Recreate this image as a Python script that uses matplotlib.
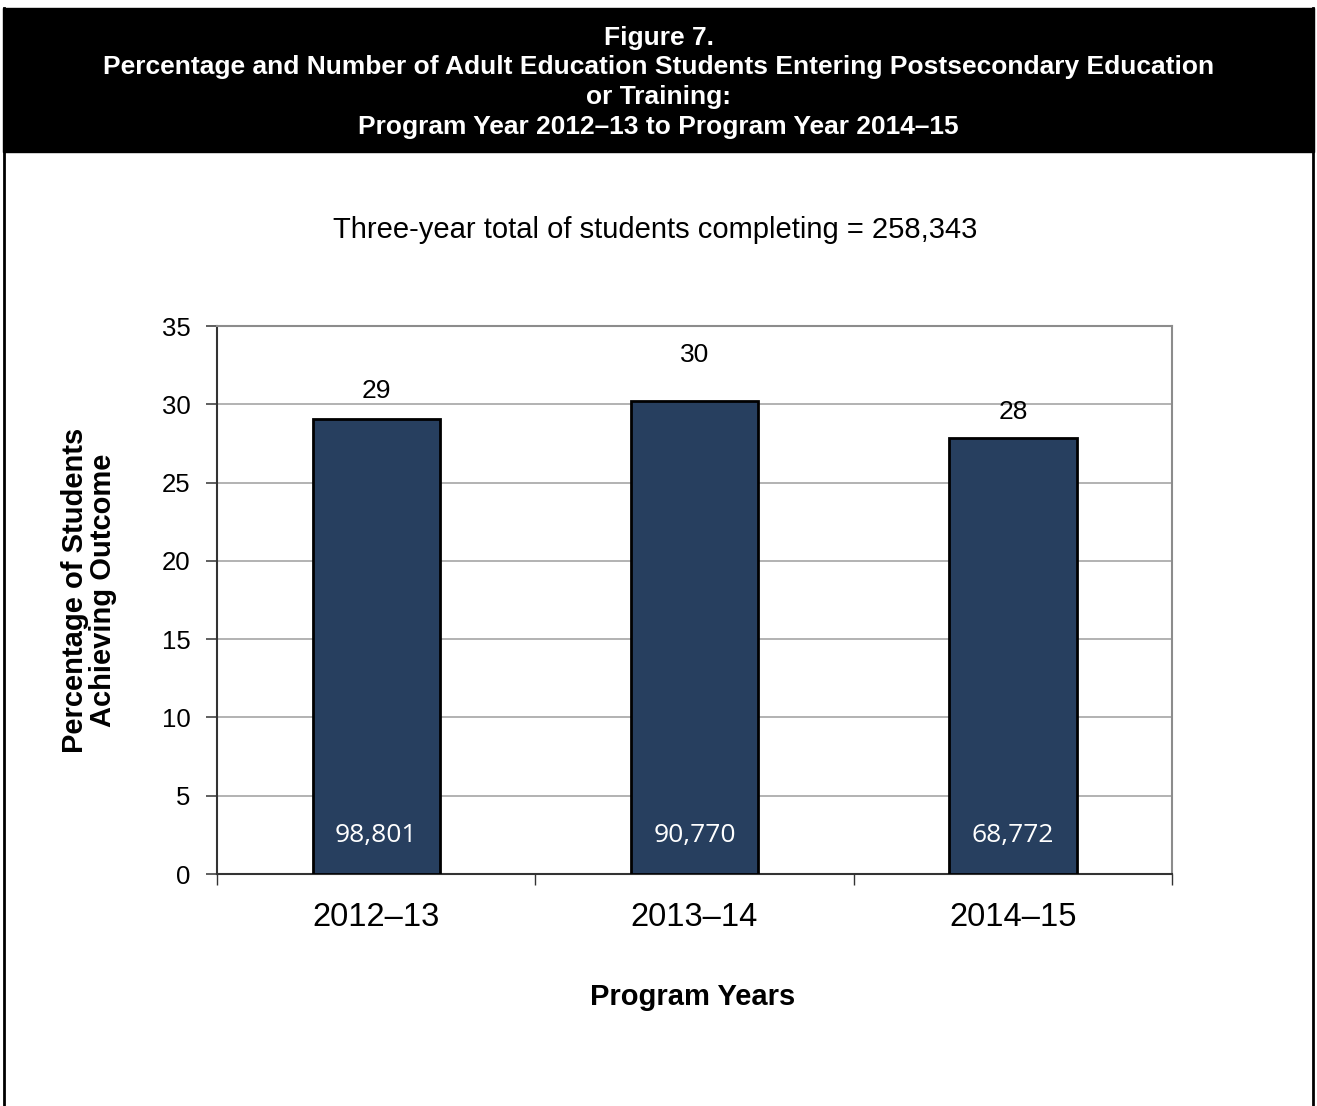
import matplotlib
matplotlib.use("Agg")
import matplotlib.pyplot as plt
from matplotlib.patches import Rectangle
from matplotlib.lines import Line2D

categories = ["2012\u201313", "2013\u201314", "2014\u201315"]
percentages = [29.05, 30.2, 27.85]
pct_labels = ["29", "30", "28"]
counts = ["98,801", "90,770", "68,772"]
y_ticks = [0, 5, 10, 15, 20, 25, 30, 35]
title_lines = [
    "Figure 7.",
    "Percentage and Number of Adult Education Students Entering Postsecondary Education",
    "or Training:",
    "Program Year 2012\u201313 to Program Year 2014\u201315",
]
subtitle = "Three-year total of students completing = 258,343"
y_label = "Percentage of Students\nAchieving Outcome"
x_label = "Program Years"

W, H = 1317, 1106
fig = plt.figure(figsize=(W / 100, H / 100), dpi=100)
plt.rcParams['font.family'] = ['Liberation Sans', 'DejaVu Sans']

def fx(px):
    return px / W

def fy(py):
    return 1 - py / H

# Header black box
fig.patches.append(Rectangle((fx(3), fy(152)), fx(1311), (144) / H,
                             transform=fig.transFigure, facecolor="black",
                             edgecolor="black", zorder=0))
# Side borders
fig.lines.append(Line2D([fx(4), fx(4)], [fy(8), 0], transform=fig.transFigure,
                        color="black", lw=2))
fig.lines.append(Line2D([fx(1313), fx(1313)], [fy(8), 0], transform=fig.transFigure,
                        color="black", lw=2))

title_y = [38, 67, 97, 127]
for line, yy in zip(title_lines, title_y):
    fig.text(0.5, fy(yy), line, ha="center", va="center", color="white",
             fontsize=19, fontweight="bold")

fig.text(fx(655), fy(230), subtitle, ha="center", va="center", fontsize=21)

ax = fig.add_axes([fx(217), fy(874), fx(955), 548 / H])
x = range(len(categories))
bars = ax.bar(x, percentages, width=0.40, color="#273F5F", edgecolor="black",
              linewidth=2, zorder=3)
ax.set_xlim(-0.5, 2.5)
ax.set_ylim(0, 35)
ax.set_yticks(y_ticks)
ax.set_yticklabels([str(t) for t in y_ticks], fontsize=18.5)
ax.yaxis.grid(True, color="#A6A6A6", lw=1.2, zorder=0)
ax.set_axisbelow(True)
ax.set_xticks([-0.5, 0.5, 1.5, 2.5])
ax.set_xticklabels([])
ax.set_xticks(list(x), minor=True)
ax.set_xticklabels(categories, minor=True, fontsize=23.5)
ax.tick_params(axis="x", which="minor", length=0, pad=20)
ax.tick_params(axis="x", which="major", length=8, width=1, color="#333333")
ax.tick_params(axis="y", length=8, width=1.2, color="#444444", pad=11)
for side in ["top", "right"]:
    ax.spines[side].set_color("#8C8C8C")
    ax.spines[side].set_linewidth(1.5)
ax.spines["left"].set_color("#333333")
ax.spines["left"].set_linewidth(1.5)
ax.spines["bottom"].set_color("#333333")
ax.spines["bottom"].set_linewidth(1.5)

label_offsets = [20, 33, 19]
for xi, v, lab, off in zip(x, percentages, pct_labels, label_offsets):
    ax.annotate(lab, (xi, v), xytext=(0, off), textcoords="offset points",
                ha="center", va="center", fontsize=19)
for xi, c in zip(x, counts):
    ax.annotate(c, (xi, 0), xytext=(0, 28), textcoords="offset points",
                ha="center", va="center", fontsize=19, color="white",
                family=['Open Sans', 'DejaVu Sans'])

fig.text(fx(89), fy(590), y_label, rotation=90, ha="center", va="center",
         fontsize=21, fontweight="bold", linespacing=1.0)
fig.text(fx(693), fy(997), x_label, ha="center", va="center",
         fontsize=21, fontweight="bold")

fig.savefig("out.png", dpi=100)
